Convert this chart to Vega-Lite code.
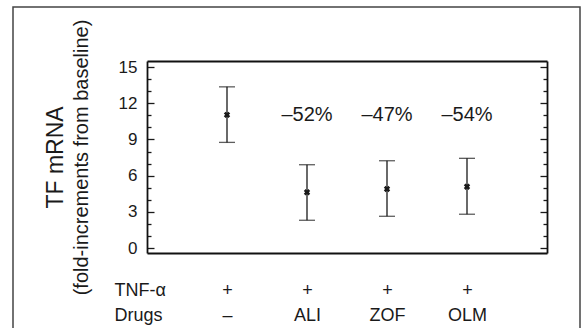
{
  "$schema": "https://vega.github.io/schema/vega-lite/v6.json",
  "width": 567,
  "height": 327,
  "autosize": {"type": "none"},
  "padding": {"left": 13, "top": 7, "right": 2, "bottom": -6},
  "background": "white",
  "config": {
    "font": "Liberation Sans",
    "view": {"stroke": "#444", "strokeWidth": 1.5},
    "axis": {"grid": false, "labelColor": "#1a1a1a", "titleColor": "#1a1a1a", "titleFontWeight": "normal"}
  },
  "data": {
    "values": [
      {"drug": "–", "tnf": "+", "mean": 11.04, "lo": 8.76, "hi": 13.36, "pct": ""},
      {"drug": "ALI", "tnf": "+", "mean": 4.63, "lo": 2.31, "hi": 6.91, "pct": "–52%"},
      {"drug": "ZOF", "tnf": "+", "mean": 4.9, "lo": 2.64, "hi": 7.24, "pct": "–47%"},
      {"drug": "OLM", "tnf": "+", "mean": 5.09, "lo": 2.81, "hi": 7.44, "pct": "–54%"}
    ]
  },
  "layer": [
    {
      "mark": {"type": "rule", "color": "#1a1a1a", "strokeWidth": 1.3},
      "encoding": {
        "x": {
          "field": "drug", "type": "nominal", "sort": ["–", "ALI", "ZOF", "OLM"],
          "scale": {"type": "point", "range": [134, 534], "padding": 1.149},
          "axis": {
            "orient": "bottom", "offset": -81, "ticks": false, "tickSize": 0,
            "domain": true, "domainColor": "#111", "domainWidth": 1.8,
            "labelExpr": "['+', datum.label]", "labelAngle": 0,
            "labelFontSize": 18, "labelPadding": 42, "labelBaseline": "alphabetic", "labelLineHeight": 25,
            "title": ["TNF-α", "Drugs"], "titleFontSize": 18, "titleLineHeight": 25,
            "titleX": 101, "titleY": 42, "titleAlign": "left", "titleBaseline": "alphabetic", "titleAngle": 0
          }
        },
        "y": {
          "field": "lo", "type": "quantitative",
          "scale": {"domain": [-0.4, 15.5], "range": [246, 54], "nice": false, "zero": false},
          "axis": {
            "orient": "left", "offset": -134, "values": [0, 3, 6, 9, 12, 15],
            "ticks": false, "tickSize": 0, "domain": false,
            "labelFontSize": 17, "labelPadding": 10,
            "title": "(fold-increments from baseline)", "titleFontSize": 20,
            "titleX": -60, "titleBaseline": "alphabetic", "titleAngle": -90
          }
        },
        "y2": {"field": "hi"}
      }
    },
    {
      "mark": {"type": "tick", "color": "#1a1a1a", "size": 16, "thickness": 1.3},
      "encoding": {
        "x": {
          "field": "drug", "type": "nominal", "sort": ["–", "ALI", "ZOF", "OLM"],
          "scale": {"type": "point", "range": [134, 534], "padding": 1.149},
          "axis": {"orient": "top", "offset": -54, "ticks": false, "labels": false, "domain": true, "domainColor": "#111", "domainWidth": 1.8, "title": null}
        },
        "y": {
          "field": "hi", "type": "quantitative",
          "scale": {"domain": [-0.4, 15.5], "range": [246, 54], "nice": false, "zero": false},
          "axis": {
            "orient": "right", "offset": -433, "values": [0, 1, 2, 3, 4, 5, 6, 7, 8, 9, 10, 11, 12, 13, 14, 15],
            "labels": false, "ticks": true, "tickColor": "#1a1a1a", "tickWidth": 1.3,
            "tickSize": {"condition": {"test": "datum.value % 3 === 0", "value": 7}, "value": 4},
            "domain": true, "domainColor": "#111", "domainWidth": 1.8, "title": null
          }
        }
      }
    },
    {
      "mark": {"type": "tick", "color": "#1a1a1a", "size": 16, "thickness": 1.3},
      "encoding": {
        "x": {
          "field": "drug", "type": "nominal", "sort": ["–", "ALI", "ZOF", "OLM"],
          "scale": {"type": "point", "range": [134, 534], "padding": 1.149},
          "axis": null
        },
        "y": {
          "field": "lo", "type": "quantitative",
          "scale": {"domain": [-0.4, 15.5], "range": [246, 54], "nice": false, "zero": false},
          "axis": {
            "orient": "left", "offset": -534, "values": [0, 1, 2, 3, 4, 5, 6, 7, 8, 9, 10, 11, 12, 13, 14, 15],
            "labels": false, "ticks": true, "tickColor": "#1a1a1a", "tickWidth": 1.3,
            "tickSize": {"condition": {"test": "datum.value % 3 === 0", "value": 7}, "value": 4},
            "domain": true, "domainColor": "#111", "domainWidth": 1.8, "title": null
          }
        }
      }
    },
    {
      "mark": {"type": "point", "shape": "cross", "angle": 45, "filled": true, "color": "#1a1a1a", "size": 42, "opacity": 1},
      "encoding": {
        "x": {
          "field": "drug", "type": "nominal", "sort": ["–", "ALI", "ZOF", "OLM"],
          "scale": {"type": "point", "range": [134, 534], "padding": 1.149},
          "axis": null
        },
        "y": {
          "field": "mean", "type": "quantitative",
          "scale": {"domain": [-0.4, 15.5], "range": [246, 54], "nice": false, "zero": false},
          "axis": {
            "orient": "left", "offset": -134, "labels": false, "ticks": false, "domain": false,
            "title": "TF mRNA", "titleFontSize": 23, "titleX": -85, "titleBaseline": "alphabetic", "titleAngle": -90
          }
        }
      }
    },
    {
      "mark": {"type": "text", "fontSize": 20, "color": "#1a1a1a", "baseline": "middle", "align": "center"},
      "encoding": {
        "x": {
          "field": "drug", "type": "nominal", "sort": ["–", "ALI", "ZOF", "OLM"],
          "scale": {"type": "point", "range": [134, 534], "padding": 1.149},
          "axis": null
        },
        "y": {"datum": 11, "type": "quantitative", "axis": null},
        "text": {"field": "pct"}
      }
    }
  ],
  "resolve": {"axis": {"x": "independent", "y": "independent"}}
}
